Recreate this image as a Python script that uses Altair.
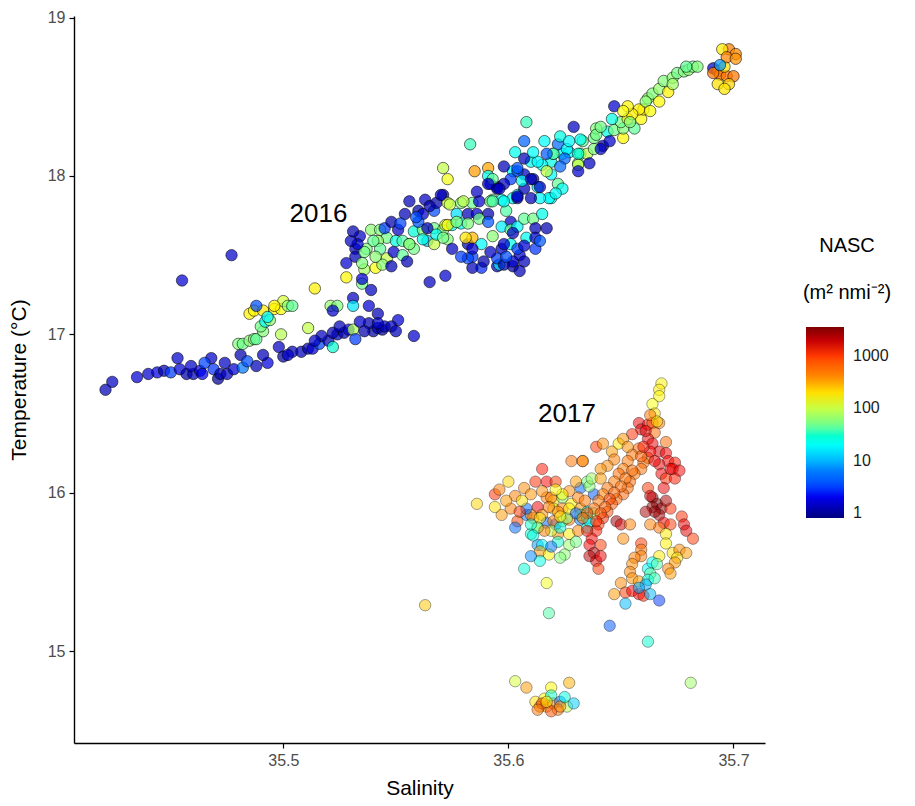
import altair as alt
import pandas as pd

# ---- 2016 survey: salinity, temperature (degC) and NASC (m2 nmi-2) ----
sal_2016 = [
    35.421, 35.424, 35.435, 35.440, 35.444, 35.447, 35.450, 35.453, 35.454, 35.457,
    35.460, 35.463, 35.464, 35.468, 35.469, 35.471, 35.472, 35.475, 35.478, 35.482,
    35.488, 35.493, 35.481, 35.477, 35.455, 35.498, 35.500, 35.504, 35.480, 35.482,
    35.485, 35.487, 35.488, 35.491, 35.490, 35.492, 35.494, 35.499, 35.485, 35.487,
    35.491, 35.496, 35.499, 35.500, 35.496, 35.502, 35.504, 35.488, 35.493, 35.508,
    35.511, 35.513, 35.516, 35.520, 35.522, 35.524, 35.527, 35.529, 35.531, 35.540,
    35.542, 35.544, 35.545, 35.551, 35.558, 35.511, 35.517, 35.522, 35.502, 35.521,
    35.524, 35.522, 35.531, 35.531, 35.538, 35.542, 35.538, 35.542, 35.514, 35.528,
    35.535, 35.536, 35.541, 35.539, 35.535, 35.534, 35.539, 35.543, 35.546, 35.542,
    35.537, 35.532, 35.532, 35.543, 35.546, 35.544, 35.549, 35.550, 35.553, 35.556,
    35.558, 35.553, 35.555, 35.545, 35.551, 35.548, 35.536, 35.533, 35.540, 35.554,
    35.560, 35.562, 35.567, 35.568, 35.571, 35.573, 35.577, 35.579, 35.582, 35.584,
    35.586, 35.587, 35.591, 35.593, 35.597, 35.599, 35.602, 35.604, 35.601, 35.558,
    35.562, 35.567, 35.571, 35.572, 35.575, 35.579, 35.582, 35.587, 35.591, 35.597,
    35.601, 35.604, 35.564, 35.567, 35.573, 35.575, 35.582, 35.584, 35.588, 35.593,
    35.597, 35.601, 35.584, 35.588, 35.584, 35.595, 35.596, 35.602, 35.605, 35.565,
    35.572, 35.552, 35.560, 35.564, 35.568, 35.573, 35.577, 35.571, 35.581, 35.584,
    35.582, 35.589, 35.595, 35.598, 35.562, 35.556, 35.583, 35.571, 35.573, 35.585,
    35.591, 35.591, 35.602, 35.592, 35.595, 35.608, 35.629, 35.647, 35.607, 35.611,
    35.612, 35.617, 35.608, 35.612, 35.602, 35.604, 35.612, 35.607, 35.602, 35.598,
    35.619, 35.615, 35.604, 35.607, 35.613, 35.622, 35.624, 35.619, 35.619, 35.615,
    35.620, 35.624, 35.627, 35.632, 35.635, 35.631, 35.636, 35.633, 35.638, 35.639,
    35.644, 35.647, 35.642, 35.645, 35.651, 35.610, 35.607, 35.607, 35.611, 35.604,
    35.601, 35.598, 35.593, 35.595, 35.591, 35.592, 35.586, 35.580, 35.574, 35.570,
    35.613, 35.611, 35.604, 35.606, 35.610, 35.617, 35.618, 35.614, 35.610, 35.604,
    35.596, 35.593, 35.598, 35.622, 35.620, 35.617, 35.626, 35.625, 35.631, 35.632,
    35.631, 35.631, 35.638, 35.641, 35.639, 35.651, 35.656, 35.650, 35.653, 35.659,
    35.660, 35.658, 35.655, 35.653, 35.651, 35.662, 35.664, 35.667, 35.667, 35.671,
    35.669, 35.673, 35.675, 35.678, 35.680, 35.682, 35.684, 35.679, 35.673, 35.691,
    35.693, 35.694, 35.697, 35.700, 35.696, 35.698, 35.701, 35.695, 35.697, 35.698,
    35.693, 35.696, 35.701, 35.691, 35.694,
    35.530, 35.535, 35.541, 35.548, 35.528, 35.531, 35.556, 35.563, 35.565, 35.559,
    35.579, 35.592, 35.599, 35.607, 35.614, 35.605, 35.603, 35.607, 35.616, 35.623,
    35.627, 35.614, 35.621, 35.623, 35.598, 35.641, 35.646, 35.654, 35.661, 35.663,
    35.514, 35.525, 35.534, 35.536, 35.548, 35.550, 35.532, 35.459, 35.465, 35.474,
    35.484, 35.491,
]
temp_2016 = [
    16.65, 16.70, 16.73, 16.75, 16.76, 16.77, 16.76, 16.85, 16.78, 16.75,
    16.75, 16.77, 16.75, 16.85, 16.78, 16.72, 16.75, 16.75, 16.78, 16.79,
    16.80, 16.82, 16.87, 17.50, 17.34, 16.92, 16.86, 16.89, 16.94, 16.94,
    16.96, 16.97, 16.97, 17.02, 17.05, 17.08, 17.09, 17.00, 17.13, 17.15,
    17.15, 17.16, 17.16, 17.21, 17.18, 17.18, 17.18, 17.18, 17.11, 16.89,
    16.91, 16.91, 16.94, 16.96, 16.92, 17.00, 17.01, 17.03, 17.03, 17.02,
    17.04, 17.03, 17.05, 17.09, 16.99, 17.04, 16.99, 17.01, 16.87, 17.18,
    17.18, 17.15, 17.23, 17.18, 17.18, 17.13, 17.07, 17.07, 17.29, 17.36,
    17.32, 17.41, 17.42, 17.28, 17.35, 17.62, 17.66, 17.66, 17.61, 17.59,
    17.54, 17.54, 17.49, 17.54, 17.48, 17.44, 17.52, 17.59, 17.59, 17.57,
    17.54, 17.50, 17.46, 17.67, 17.66, 17.71, 17.52, 17.57, 17.59, 17.76,
    17.78, 17.76, 17.78, 17.83, 17.88, 17.83, 17.76, 17.83, 17.76, 17.83,
    17.76, 17.84, 17.76, 17.85, 17.85, 17.78, 17.86, 17.88, 17.71, 17.65,
    17.66, 17.67, 17.66, 17.69, 17.69, 17.70, 17.70, 17.73, 17.71, 17.68,
    17.66, 17.68, 17.59, 17.57, 17.60, 17.54, 17.57, 17.61, 17.57, 17.62,
    17.54, 17.57, 17.49, 17.42, 17.42, 17.43, 17.44, 17.43, 17.50, 17.33,
    17.37, 17.70, 17.71, 17.67, 17.63, 17.69, 17.71, 17.61, 17.61, 17.54,
    17.48, 17.46, 17.48, 17.57, 17.60, 17.57, 18.20, 18.05, 17.98, 18.03,
    18.05, 18.00, 18.03, 17.95, 17.93, 18.34, 18.31, 18.44, 17.73, 17.73,
    17.67, 17.67, 17.61, 17.61, 17.64, 17.54, 17.54, 17.46, 17.46, 17.44,
    17.86, 17.76, 17.86, 17.92, 17.93, 17.95, 17.92, 18.01, 18.09, 18.07,
    18.14, 18.14, 18.15, 18.14, 18.14, 18.08, 18.08, 18.22, 18.24, 18.30,
    18.28, 18.29, 18.19, 18.22, 18.24, 18.09, 18.01, 18.11, 17.98, 18.03,
    17.98, 17.95, 17.98, 17.92, 17.95, 17.84, 17.90, 17.84, 17.82, 17.88,
    18.09, 18.15, 18.05, 17.97, 17.98, 18.03, 17.86, 17.86, 17.86, 17.87,
    17.92, 17.84, 17.84, 18.20, 18.14, 18.14, 18.17, 18.11, 18.14, 18.23,
    18.07, 18.03, 18.17, 18.17, 18.26, 18.30, 18.30, 18.34, 18.36, 18.36,
    18.42, 18.42, 18.39, 18.44, 18.41, 18.49, 18.52, 18.55, 18.47, 18.53,
    18.60, 18.62, 18.65, 18.66, 18.67, 18.69, 18.69, 18.69, 18.58, 18.68,
    18.66, 18.64, 18.63, 18.63, 18.69, 18.80, 18.77, 18.80, 18.75, 18.58,
    18.58, 18.55, 18.74, 18.65, 18.70,
    17.59, 17.45, 17.49, 17.43, 17.45, 17.65, 17.84, 17.85, 17.81, 17.74,
    17.49, 17.52, 17.49, 17.56, 17.59, 17.40, 18.15, 18.22, 18.22, 18.25,
    18.22, 17.93, 17.89, 18.06, 18.06, 18.31, 18.36, 18.34, 18.47, 18.41,
    16.96, 17.05, 17.08, 17.02, 17.05, 17.02, 16.97, 16.80, 16.82, 16.82,
    16.83, 16.87,
]
nasc_2016 = [
    1.3, 1.4, 1.6, 1.5, 1.8, 1.2, 3.0, 1.5, 1.7, 1.1,
    1.3, 2.0, 1.9, 1.5, 2.8, 1.0, 1.2, 1.4, 1.6, 6.0,
    1.3, 1.8, 1.2, 1.5, 1.6, 1.4, 1.1, 1.3, 55, 48,
    60, 52, 45, 58, 50, 22, 62, 85, 170, 160,
    180, 175, 150, 110, 165, 55, 45, 3.5, 18, 1.4,
    1.2, 1.6, 3.2, 1.3, 30, 1.5, 1.2, 1.7, 80, 1.1,
    1.3, 1.0, 1.4, 1.6, 1.5, 95, 1.4, 1.2, 1.5, 65,
    55, 1.5, 1.4, 15, 1.6, 1.3, 1.2, 1.5, 175, 165,
    50, 75, 150, 1.4, 1.6, 1.5, 60, 55, 50, 65,
    55, 1.4, 1.3, 45, 95, 60, 1.5, 25, 40, 55,
    50, 45, 1.3, 3.0, 1.5, 1.2, 50, 1.6, 45, 1.3,
    1.1, 1.5, 3.5, 1.2, 1.4, 110, 14, 55, 1.3, 48,
    1.5, 1.6, 1.2, 45, 20, 40, 22, 18, 1.4, 28,
    55, 50, 60, 100, 25, 20, 55, 50, 4.0, 16,
    45, 20, 10, 100, 55, 1.4, 1.2, 280, 18, 60,
    1.5, 24, 3.0, 2.6, 1.3, 1.4, 16, 1.2, 1.6, 1.4,
    1.5, 3.2, 3.8, 1.3, 22, 160, 60, 50, 190, 1.5,
    3.4, 1.2, 3.0, 1.5, 25, 55, 35, 95, 140, 350,
    330, 20, 18, 1.3, 1.5, 35, 1.4, 1.5, 45, 50,
    1.3, 1.2, 22, 1.5, 1.4, 3.2, 2.8, 1.3, 1.5, 1.2,
    20, 24, 1.4, 1.3, 16, 45, 22, 18, 25, 20,
    22, 18, 20, 40, 90, 50, 1.4, 45, 50, 55,
    25, 50, 1.3, 1.5, 160, 22, 1.4, 1.3, 1.5, 3.5,
    3.0, 1.4, 45, 1.3, 1.5, 50, 1.4, 90, 95, 1.3,
    18, 20, 4.0, 22, 1.2, 100, 20, 18, 1.3, 1.5,
    1.4, 40, 22, 5.0, 45, 4.0, 18, 5.0, 28, 22,
    100, 1.5, 55, 1.4, 50, 55, 45, 50, 170, 160,
    180, 170, 175, 165, 150, 60, 55, 65, 160, 170,
    55, 60, 50, 55, 60, 50, 55, 45, 70, 1.5,
    520, 480, 550, 500, 200, 450, 400, 180, 420, 220,
    200, 190, 380, 500, 8,
    1.4, 55, 60, 1.3, 1.5, 1.2, 1.3, 1.4, 1.2, 3.5,
    3.0, 1.4, 3.6, 1.5, 4.0, 1.3, 22, 4.5, 20, 25,
    18, 1.4, 20, 5.0, 1.3, 50, 25, 55, 60, 150,
    1.4, 1.3, 1.5, 1.2, 1.4, 1.3, 3.0, 1.5, 3.2, 1.4,
    3.5, 1.3,
]

# ---- 2017 survey ----
sal_2017 = [
    35.586, 35.594, 35.596, 35.600, 35.615, 35.628, 35.633, 35.612, 35.617, 35.621,
    35.607, 35.610, 35.613, 35.617, 35.620, 35.624, 35.627, 35.632, 35.635, 35.597,
    35.601, 35.604, 35.608, 35.611, 35.615, 35.620, 35.624, 35.628, 35.632, 35.635,
    35.610, 35.613, 35.617, 35.621, 35.624, 35.627, 35.632, 35.622, 35.627, 35.631,
    35.635, 35.613, 35.615, 35.622, 35.627, 35.614, 35.618, 35.614, 35.625, 35.607,
    35.617, 35.619, 35.624, 35.631, 35.638, 35.610, 35.614, 35.620, 35.626, 35.632,
    35.635, 35.608, 35.622, 35.627, 35.619, 35.623, 35.613, 35.610,
    35.603, 35.606, 35.615, 35.621, 35.630, 35.636, 35.605, 35.618, 35.623, 35.630,
    35.636, 35.616, 35.611, 35.630, 35.619, 35.623, 35.610, 35.599, 35.594, 35.603,
    35.634, 35.638,
    35.668, 35.667, 35.667, 35.664, 35.665, 35.658, 35.659, 35.662, 35.664, 35.665,
    35.667, 35.655, 35.662, 35.664, 35.667, 35.670, 35.671, 35.674, 35.673, 35.667,
    35.668, 35.670, 35.674, 35.662, 35.660, 35.659, 35.656, 35.654, 35.653, 35.651,
    35.648, 35.646, 35.644, 35.642, 35.640, 35.639, 35.637, 35.636, 35.638, 35.639,
    35.640, 35.658, 35.655, 35.653, 35.651, 35.649, 35.647, 35.644, 35.642, 35.640,
    35.638, 35.635, 35.633, 35.639, 35.642, 35.646, 35.649, 35.651, 35.653, 35.647,
    35.644, 35.641, 35.637, 35.641, 35.633, 35.648, 35.650, 35.654, 35.662, 35.664,
    35.666, 35.664, 35.668, 35.667, 35.665, 35.669, 35.672, 35.669, 35.667, 35.672,
    35.677, 35.678, 35.679, 35.682, 35.663, 35.670, 35.670, 35.651, 35.659, 35.659,
    35.659, 35.667, 35.673, 35.676, 35.679, 35.675, 35.674, 35.671, 35.672, 35.656,
    35.655, 35.654, 35.655, 35.658, 35.662, 35.664, 35.666, 35.663, 35.662, 35.665,
    35.661, 35.650, 35.647, 35.652, 35.655, 35.658, 35.660, 35.663, 35.667, 35.658,
    35.652, 35.645, 35.662, 35.618, 35.563,
    35.661, 35.663, 35.665, 35.659, 35.655, 35.652, 35.650, 35.647, 35.645, 35.643,
    35.641, 35.639, 35.635, 35.641, 35.636, 35.641, 35.661, 35.670, 35.663, 35.672,
    35.676, 35.670, 35.663, 35.666, 35.660,
    35.603, 35.608, 35.619, 35.627, 35.681, 35.612, 35.614, 35.617, 35.620, 35.623,
    35.626, 35.616, 35.619, 35.629, 35.622, 35.615,
    35.613, 35.619, 35.623, 35.617, 35.625,
]
temp_2017 = [
    15.93, 15.99, 16.02, 16.07, 16.15, 16.20, 16.20, 16.07, 16.07, 16.07,
    16.03, 15.99, 15.91, 15.97, 15.95, 15.97, 16.01, 16.03, 16.07, 15.86,
    15.90, 15.82, 15.86, 15.84, 15.86, 15.90, 15.90, 15.93, 15.90, 15.88,
    15.74, 15.78, 15.81, 15.80, 15.82, 15.83, 15.83, 15.74, 15.74, 15.76,
    15.78, 15.67, 15.67, 15.69, 15.67, 15.63, 15.61, 15.57, 15.61, 15.52,
    15.43, 15.97, 15.99, 15.97, 15.99, 15.86, 15.84, 15.82, 15.84, 15.86,
    15.84, 15.90, 15.88, 15.90, 15.76, 15.78, 15.78, 15.80,
    15.98, 15.95, 16.01, 16.02, 16.07, 16.04, 15.88, 15.91, 15.85, 15.87,
    15.82, 15.76, 15.73, 15.69, 15.66, 15.59, 15.60, 15.95, 15.91, 15.78,
    15.95, 15.87,
    16.69, 16.65, 16.61, 16.56, 16.50, 16.44, 16.40, 16.43, 16.44, 16.38,
    16.44, 16.37, 16.34, 16.31, 16.26, 16.25, 16.20, 16.19, 16.15, 16.18,
    16.12, 16.09, 16.09, 16.22, 16.19, 16.15, 16.12, 16.07, 16.03, 15.99,
    15.96, 15.93, 15.88, 15.84, 15.80, 15.76, 15.71, 15.67, 15.62, 15.57,
    15.52, 16.28, 16.24, 16.20, 16.15, 16.12, 16.07, 16.03, 15.99, 15.95,
    15.90, 15.87, 15.84, 16.29, 16.31, 16.26, 16.31, 16.34, 16.29, 16.21,
    16.17, 16.15, 16.09, 16.09, 16.20, 15.82, 15.80, 15.80, 16.03, 15.97,
    15.93, 15.91, 15.90, 15.86, 15.88, 16.03, 15.90, 15.81, 15.78, 15.80,
    15.85, 15.80, 15.76, 15.71, 15.80, 15.74, 15.68, 15.71, 15.68, 15.64,
    15.60, 15.60, 15.62, 15.64, 15.62, 15.59, 15.56, 15.52, 15.49, 15.59,
    15.55, 15.50, 15.46, 15.44, 15.52, 15.56, 15.55, 15.49, 15.45, 15.46,
    15.42, 15.43, 15.36, 15.37, 15.38, 15.36, 15.35, 15.36, 15.32, 15.40,
    15.30, 15.16, 15.06, 15.24, 15.29,
    16.39, 16.26, 16.20, 16.23, 16.14, 16.09, 16.04, 16.00, 15.96, 15.91,
    15.87, 15.82, 15.76, 15.67, 15.60, 15.60, 15.88, 15.95, 15.98, 16.15,
    16.14, 16.32, 16.49, 16.45, 16.29,
    14.81, 14.77, 14.77, 14.80, 14.80, 14.68, 14.65, 14.65, 14.67, 14.68,
    14.65, 14.70, 14.72, 14.67, 14.63, 14.67,
    14.63, 14.62, 14.65, 14.68, 14.71,
]
nasc_2017 = [
    220, 1100, 450, 220, 1200, 550, 500, 1100, 1300, 1000,
    400, 380, 1500, 450, 200, 60, 400, 5, 50, 350,
    450, 900, 6, 500, 400, 180, 420, 170, 380, 25,
    30, 55, 5, 4, 60, 450, 7, 380, 180, 420,
    22, 8, 18, 30, 65, 350, 170, 25, 60, 28,
    140, 500, 160, 450, 4, 420, 190, 480, 55, 70,
    20, 5, 450, 180, 100, 25, 50, 30,
    450, 200, 400, 160, 350, 60, 1000, 550, 180, 5,
    20, 450, 25, 50, 6, 55, 7, 350, 200, 5,
    500, 70,
    170, 180, 160, 150, 200, 1500, 1600, 1300, 700, 600,
    500, 1100, 1400, 1500, 1600, 1400, 1300, 1200, 1500, 1300,
    1400, 1100, 1200, 800, 600, 550, 500, 650, 600, 700,
    650, 750, 800, 1100, 1000, 1200, 1300, 1400, 2500, 1600,
    1000, 600, 550, 500, 450, 600, 500, 550, 450, 500,
    600, 900, 500, 1000, 400, 350, 190, 380, 400, 450,
    400, 380, 70, 350, 400, 2800, 1800, 450, 1000, 3200,
    3500, 3000, 2800, 2500, 3000, 1500, 1100, 1400, 550, 1000,
    1100, 1500, 1600, 1000, 450, 180, 170, 400, 1000, 500,
    450, 180, 200, 400, 350, 200, 380, 420, 350, 450,
    400, 420, 380, 350, 18, 20, 40, 45, 22, 35,
    9, 400, 350, 1000, 1300, 1500, 1200, 10, 3, 9,
    10, 4, 30, 40, 250,
    1600, 1300, 1500, 700, 600, 550, 600, 650, 900, 700,
    800, 1100, 1200, 1000, 2200, 1500, 2500, 2600, 1800, 1400,
    1300, 600, 500, 200, 1200,
    110, 350, 160, 300, 70, 200, 450, 400, 500, 6,
    90, 160, 30, 12, 480, 900,
    500, 800, 400, 190, 25,
]

# Year annotations placed in data space
label_text = ["2016", "2017"]
label_sal = [35.5156, 35.626]
label_temp = [17.76, 16.50]

# Jet colour ramp on a log NASC axis (piecewise stops)
jet_colors = ["#00007F", "#0000FF", "#007FFF", "#00FFFF", "#7FFF7F",
              "#FFFF00", "#FF7F00", "#FF0000", "#7F0000"]
jet_stops = [0.8, 2.29, 6.56, 18.8, 53.7, 154, 440, 1260, 3600]
legend_values = [1, 10, 100, 1000]

df16 = pd.DataFrame({"Salinity": sal_2016, "Temperature": temp_2016,
                     "NASC": nasc_2016})
df17 = pd.DataFrame({"Salinity": sal_2017, "Temperature": temp_2017,
                     "NASC": nasc_2017})
labels = pd.DataFrame({"label": label_text, "Salinity": label_sal,
                       "Temperature": label_temp})

FONT = "Liberation Sans"

x_enc = alt.X("Salinity:Q",
              scale=alt.Scale(domain=[35.407, 35.714], nice=False, zero=False),
              axis=alt.Axis(values=[35.5, 35.6, 35.7], format=".1f",
                            title="Salinity"))
y_enc = alt.Y("Temperature:Q",
              scale=alt.Scale(domain=[14.42, 19.01], nice=False, zero=False),
              axis=alt.Axis(values=[15, 16, 17, 18, 19], format="d",
                            title="Temperature (°C)"))
color_enc = alt.Color(
    "NASC:Q",
    scale=alt.Scale(type="log", domain=jet_stops, range=jet_colors),
    legend=alt.Legend(
        title=["NASC", "(m² nmi⁻²)"],
        values=legend_values, format="d",
        orient="none", legendX=729, legendY=220,
        direction="vertical",
        gradientLength=191, gradientThickness=38,
        gradientStrokeWidth=0,
        titleFontSize=20, titleFont=FONT, titleFontWeight="normal",
        titleColor="#000000", titleLineHeight=47,
        titleAnchor="middle", titleAlign="center", titlePadding=24,
        labelFontSize=16, labelFont=FONT, labelColor="#1a1a1a",
        labelOffset=9,
    ),
)

pts16 = alt.Chart(df16).mark_circle(
    size=130, fillOpacity=0.72, stroke="#000000", strokeWidth=0.8,
    strokeOpacity=0.7,
).encode(x=x_enc, y=y_enc, color=color_enc)

pts17 = alt.Chart(df17).mark_circle(
    size=130, fillOpacity=0.52, stroke="#000000", strokeWidth=0.8,
    strokeOpacity=0.45,
).encode(x=x_enc, y=y_enc, color=color_enc)

txt = alt.Chart(labels).mark_text(
    fontSize=26, font=FONT, color="#000000", align="center", baseline="middle"
).encode(x="Salinity:Q", y="Temperature:Q", text="label:N")

chart = alt.layer(pts16, pts17, txt).properties(
    width=691, height=727,
    autosize=alt.AutoSizeParams(type="none"),
    padding={"left": 74, "top": 16, "right": 150, "bottom": 63},
).configure_view(
    stroke=None
).configure_axis(
    grid=False, domainColor="#000000", domainWidth=1.4,
    tickColor="#000000", tickWidth=1.2, tickSize=5,
    labelFont=FONT, labelFontSize=16, labelColor="#4d4d4d", labelPadding=4,
    titleFont=FONT, titleFontSize=21, titleColor="#000000",
    titleFontWeight="normal",
).configure_axisX(
    titlePadding=9
).configure_axisY(
    titlePadding=18
)

chart.save("out.html", embed_options={"renderer": "svg", "actions": False})
